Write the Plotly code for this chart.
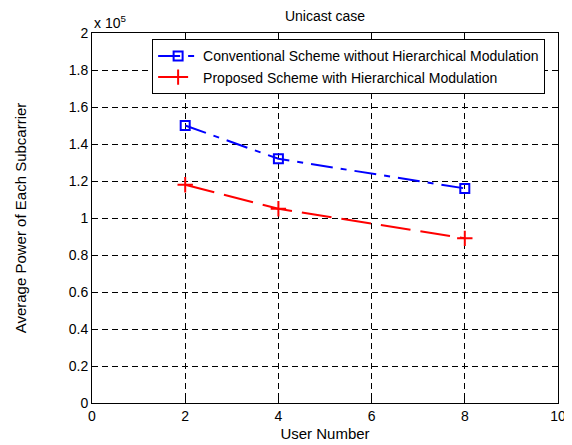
import plotly.graph_objects as go

users = [2, 4, 8]
conventional = [1.50e5, 1.32e5, 1.16e5]
proposed = [1.18e5, 1.05e5, 0.89e5]
y_ticks = [0, 0.2e5, 0.4e5, 0.6e5, 0.8e5, 1.0e5, 1.2e5, 1.4e5, 1.6e5, 1.8e5, 2.0e5]
y_tick_labels = ["0", "0.2", "0.4", "0.6", "0.8", "1", "1.2", "1.4", "1.6", "1.8", "2"]
x_ticks = [0, 2, 4, 6, 8, 10]

font = "Arial, Liberation Sans, sans-serif"

fig = go.Figure()
fig.add_trace(go.Scatter(
    x=users, y=conventional, mode="lines+markers",
    name="Conventional Scheme without Hierarchical Modulation",
    line=dict(color="#0000ff", width=2, dash="22px,8px,6px,8px"),
    marker=dict(symbol="square-open", size=9, color="#0000ff", line=dict(width=2)),
))
fig.add_trace(go.Scatter(
    x=users, y=proposed, mode="lines+markers",
    name="Proposed Scheme with Hierarchical Modulation",
    line=dict(color="#ff0000", width=2, dash="30px,10px"),
    marker=dict(symbol="cross-thin-open", size=11, color="#ff0000", line=dict(width=2, color="#ff0000")),
))

axis_common = dict(
    showline=True, linecolor="black", linewidth=1, mirror="allticks",
    ticks="inside", ticklen=5, tickcolor="black",
    showgrid=True, gridcolor="black", griddash="6px,4px", gridwidth=0.8,
    zeroline=False, automargin=False,
    tickfont=dict(family=font, size=14, color="black"),
)

fig.update_xaxes(range=[0, 10], tickvals=x_ticks,
                 title=dict(text="User Number", font=dict(family=font, size=15, color="black"), standoff=5),
                 **axis_common)
fig.update_yaxes(range=[0, 2e5], tickvals=y_ticks, ticktext=y_tick_labels,
                 title=dict(text="Average Power of Each Subcarrier", font=dict(family=font, size=15, color="black"), standoff=38),
                 **axis_common)

fig.update_layout(
    width=572, height=445,
    margin=dict(l=84, r=22, t=25, b=50),
    paper_bgcolor="white", plot_bgcolor="white",
    font=dict(family=font, color="black"),
    title=dict(text="Unicast case", xref="paper", x=0.5, xanchor="center", y=0.982, yanchor="middle",
               font=dict(family=font, size=14, color="black")),
    showlegend=True,
    legend=dict(x=0.129, y=0.983, xanchor="left", yanchor="top",
                bgcolor="white", bordercolor="black", borderwidth=1,
                font=dict(family=font, size=14, color="black"),
                tracegroupgap=0, itemwidth=40),
    annotations=[dict(text="x 10<sup>5</sup>", xref="paper", yref="paper", x=0, y=1,
                      xanchor="left", yanchor="bottom", showarrow=False,
                      font=dict(family=font, size=14, color="black"))],
)

fig.write_html("out.html")
